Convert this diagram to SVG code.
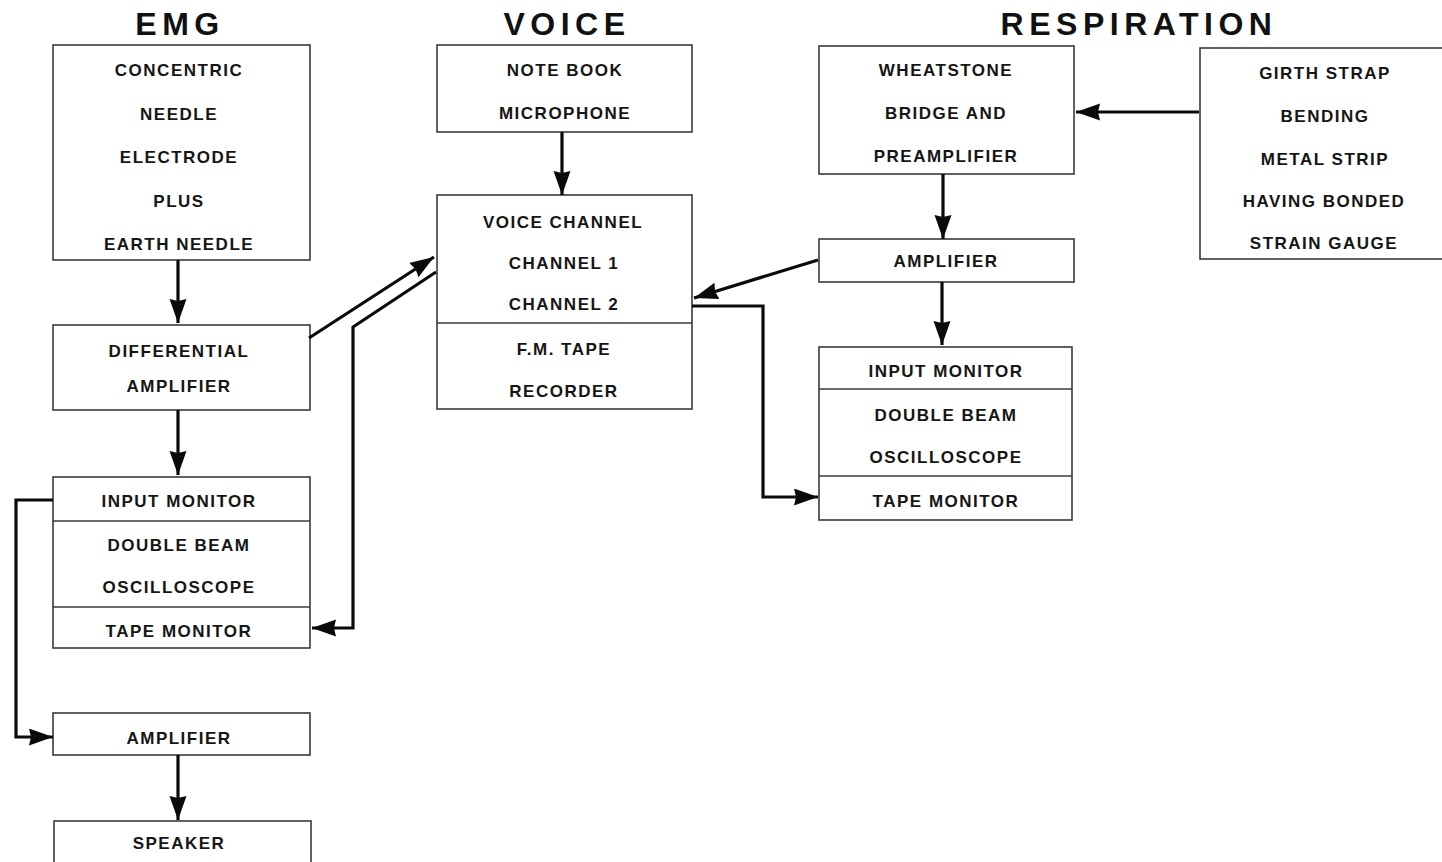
<svg xmlns="http://www.w3.org/2000/svg" width="1442" height="862" viewBox="0 0 1442 862">
  <style>
    .box { fill: #ffffff; stroke: #3a3a3a; stroke-width: 1.6; }
    .div { stroke: #3a3a3a; stroke-width: 1.6; fill: none; }
    .lbl { font-family: "Liberation Sans", Arial, sans-serif; font-size: 17px; font-weight: bold; letter-spacing: 1.5px; fill: #151515; text-anchor: middle; }
    .ttl { font-family: "Liberation Sans", Arial, sans-serif; font-size: 32px; font-weight: bold; letter-spacing: 5.5px; fill: #111111; text-anchor: middle; }
    .wire { stroke: #0a0a0a; stroke-width: 3.2; fill: none; stroke-linejoin: miter; }
  </style>
  <defs>
    <marker id="arrow" markerUnits="userSpaceOnUse" markerWidth="26" markerHeight="18" refX="24" refY="8.5" orient="auto">
      <path d="M0,0 L24,8.5 L0,17 L2,8.5 Z" fill="#0a0a0a"/>
    </marker>
  </defs>
  <rect width="1442" height="862" fill="#ffffff"/>

  <!-- column headings -->
  <text class="ttl" x="180" y="35">EMG</text>
  <text class="ttl" x="567" y="35">VOICE</text>
  <text class="ttl" x="1139" y="35">RESPIRATION</text>

  <!-- EMG column -->
  <g id="emg-electrode">
    <rect class="box" x="53" y="45" width="257" height="215"/>
    <text class="lbl" x="179" y="76">CONCENTRIC</text>
    <text class="lbl" x="179" y="120">NEEDLE</text>
    <text class="lbl" x="179" y="163">ELECTRODE</text>
    <text class="lbl" x="179" y="207">PLUS</text>
    <text class="lbl" x="179" y="250">EARTH NEEDLE</text>
  </g>
  <g id="emg-diff-amp">
    <rect class="box" x="53" y="325" width="257" height="85"/>
    <text class="lbl" x="179" y="357">DIFFERENTIAL</text>
    <text class="lbl" x="179" y="392">AMPLIFIER</text>
  </g>
  <g id="emg-scope">
    <rect class="box" x="53" y="477" width="257" height="171"/>
    <line class="div" x1="53" y1="521" x2="310" y2="521"/>
    <line class="div" x1="53" y1="607" x2="310" y2="607"/>
    <text class="lbl" x="179" y="507">INPUT MONITOR</text>
    <text class="lbl" x="179" y="551">DOUBLE BEAM</text>
    <text class="lbl" x="179" y="593">OSCILLOSCOPE</text>
    <text class="lbl" x="179" y="637">TAPE MONITOR</text>
  </g>
  <g id="emg-amp">
    <rect class="box" x="53" y="713" width="257" height="42"/>
    <text class="lbl" x="179" y="744">AMPLIFIER</text>
  </g>
  <g id="emg-speaker">
    <rect class="box" x="54" y="821" width="257" height="60"/>
    <text class="lbl" x="179" y="849">SPEAKER</text>
  </g>

  <!-- Voice column -->
  <g id="voice-mic">
    <rect class="box" x="437" y="45" width="255" height="87"/>
    <text class="lbl" x="565" y="76">NOTE BOOK</text>
    <text class="lbl" x="565" y="119">MICROPHONE</text>
  </g>
  <g id="voice-recorder">
    <rect class="box" x="437" y="195" width="255" height="214"/>
    <line class="div" x1="437" y1="323" x2="692" y2="323"/>
    <text class="lbl" x="563" y="228">VOICE CHANNEL</text>
    <text class="lbl" x="564" y="269">CHANNEL 1</text>
    <text class="lbl" x="564" y="310">CHANNEL 2</text>
    <text class="lbl" x="564" y="355">F.M. TAPE</text>
    <text class="lbl" x="564" y="397">RECORDER</text>
  </g>

  <!-- Respiration column -->
  <g id="resp-bridge">
    <rect class="box" x="819" y="46" width="255" height="128"/>
    <text class="lbl" x="946" y="76">WHEATSTONE</text>
    <text class="lbl" x="946" y="119">BRIDGE AND</text>
    <text class="lbl" x="946" y="162">PREAMPLIFIER</text>
  </g>
  <g id="resp-gauge">
    <rect class="box" x="1200" y="48" width="260" height="211"/>
    <text class="lbl" x="1325" y="79">GIRTH STRAP</text>
    <text class="lbl" x="1325" y="122">BENDING</text>
    <text class="lbl" x="1325" y="165">METAL STRIP</text>
    <text class="lbl" x="1324" y="207">HAVING BONDED</text>
    <text class="lbl" x="1324" y="249">STRAIN GAUGE</text>
  </g>
  <g id="resp-amp">
    <rect class="box" x="819" y="239" width="255" height="43"/>
    <text class="lbl" x="946" y="267">AMPLIFIER</text>
  </g>
  <g id="resp-scope">
    <rect class="box" x="819" y="347" width="253" height="173"/>
    <line class="div" x1="819" y1="389" x2="1072" y2="389"/>
    <line class="div" x1="819" y1="476" x2="1072" y2="476"/>
    <text class="lbl" x="946" y="377">INPUT MONITOR</text>
    <text class="lbl" x="946" y="421">DOUBLE BEAM</text>
    <text class="lbl" x="946" y="463">OSCILLOSCOPE</text>
    <text class="lbl" x="946" y="507">TAPE MONITOR</text>
  </g>

  <!-- signal paths -->
  <g id="connectors">
    <path class="wire" marker-end="url(#arrow)" d="M178,260 V323"/>
    <path class="wire" marker-end="url(#arrow)" d="M178,410 V475"/>
    <path class="wire" marker-end="url(#arrow)" d="M178,755 V820"/>
    <path class="wire" marker-end="url(#arrow)" d="M562,132 V195"/>
    <path class="wire" marker-end="url(#arrow)" d="M943,174 V239"/>
    <path class="wire" marker-end="url(#arrow)" d="M942,282 V345"/>
    <path class="wire" marker-end="url(#arrow)" d="M1199,112 H1076"/>
    <path class="wire" marker-end="url(#arrow)" d="M309,338 L434,257"/>
    <path class="wire" marker-end="url(#arrow)" d="M436,272 L353,327 V628 H312"/>
    <path class="wire" marker-end="url(#arrow)" d="M818,260 L694,298"/>
    <path class="wire" marker-end="url(#arrow)" d="M692,306 H763 V497 H818"/>
    <path class="wire" marker-end="url(#arrow)" d="M53,500 H16 V737 H53"/>
  </g>
</svg>
